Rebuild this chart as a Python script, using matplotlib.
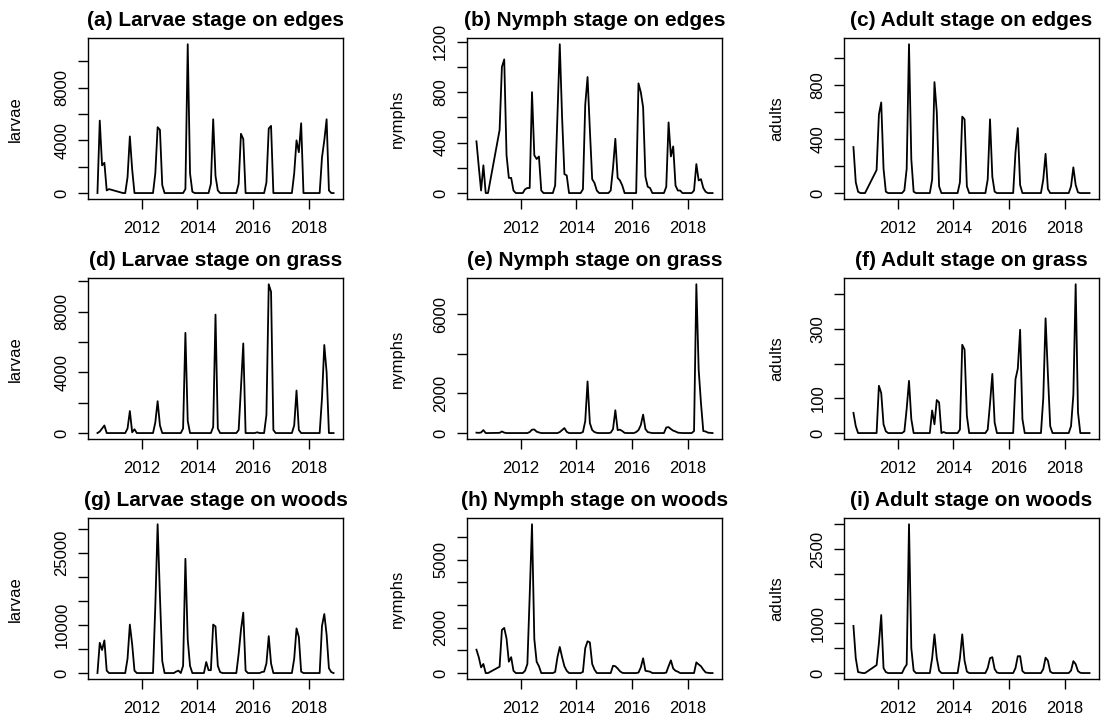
import numpy as np
import matplotlib
matplotlib.use("Agg")
import matplotlib.pyplot as plt

plt.rcParams['font.family'] = ['Liberation Sans', 'DejaVu Sans']

N = None  # month not sampled

# monthly samples, Jun 2010 .. Dec 2018 (one row per year)
months = 2010.4 + np.arange(103) / 12

larvae_edges = [
    0, 5500, 2100, 2300, 200, 300, N,
    N, N, N, 50, 0, 0, 1200, 4300, 1800, 0, 0, 0,
    0, 0, 0, 0, 0, 0, 1500, 5000, 4800, 600, 0, 0,
    0, 0, 0, 0, 0, 0, 0, 300, 11300, 1500, 100, 0,
    0, 0, 0, 0, 0, 0, 700, 5600, 1300, 200, 0, 0,
    0, 0, 0, 0, 0, 0, 700, 4500, 4100, 0, 0, 0,
    0, 0, 0, 0, 0, 0, 800, 4900, 5100, 0, 0, 0,
    0, 0, 0, 0, 0, 0, 1500, 4000, 3100, 5300, 0, 0,
    0, 0, 0, 0, 0, 0, 2700, 4000, 5600, 200, 0, 0,
]
nymphs_edges = [
    410, 210, 20, 220, 0, 0, N,
    N, N, N, 500, 1000, 1060, 300, 120, 120, 20, 0, 0,
    0, 0, 30, 40, 40, 800, 300, 270, 290, 20, 0, 0,
    0, 0, 0, 60, 620, 1180, 600, 150, 140, 0, 0, 0,
    0, 0, 0, 30, 700, 920, 500, 110, 80, 20, 0, 0,
    0, 0, 0, 20, 200, 430, 120, 100, 60, 0, 0, 0,
    0, 0, 0, 870, 800, 680, 130, 50, 40, 0, 0, 0,
    0, 0, 0, 50, 560, 290, 370, 60, 20, 20, 0, 0,
    0, 0, 0, 20, 230, 100, 110, 40, 10, 0, 0, 0,
]
adults_edges = [
    340, 80, 10, 0, 0, 0, N,
    N, N, N, 170, 580, 670, 180, 10, 0, 0, 0, 0,
    0, 0, 0, 20, 180, 1100, 250, 10, 0, 0, 0, 0,
    0, 0, 0, 100, 820, 600, 50, 0, 0, 0, 0, 0,
    0, 0, 0, 80, 565, 545, 50, 0, 0, 0, 0, 0,
    0, 0, 0, 100, 545, 120, 10, 0, 0, 0, 0, 0,
    0, 0, 0, 300, 480, 60, 0, 0, 0, 0, 0, 0,
    0, 0, 0, 100, 290, 30, 0, 0, 0, 0, 0, 0,
    0, 0, 0, 50, 190, 60, 5, 0, 0, 0, 0, 0,
]
larvae_grass = [
    0, 100, 300, 500, 0, 0, N,
    N, N, N, 0, 0, 0, 300, 1450, 50, 250, 0, 0,
    0, 0, 0, 0, 0, 0, 700, 2100, 500, 0, 0, 0,
    0, 0, 0, 0, 0, 0, 300, 6600, 800, 0, 0, 0,
    0, 0, 0, 0, 0, 0, 0, 400, 7800, 300, 0, 0,
    0, 0, 0, 0, 0, 0, 200, 3000, 5900, 0, 0, 0,
    0, 0, 50, 0, 0, 0, 1200, 9800, 9300, 200, 0, 0,
    0, 0, 0, 0, 0, 0, 500, 2800, 200, 0, 0, 0,
    0, 0, 0, 0, 0, 0, 2300, 5800, 4000, 0, 0, 0,
]
nymphs_grass = [
    20, 10, 30, 150, 0, 0, N,
    N, N, N, 10, 80, 20, 0, 0, 0, 0, 0, 0,
    0, 0, 0, 0, 50, 170, 180, 70, 30, 0, 0, 0,
    0, 0, 0, 0, 0, 50, 150, 250, 60, 0, 0, 0,
    0, 0, 0, 50, 600, 2600, 500, 150, 50, 10, 0, 0,
    0, 0, 0, 20, 200, 1150, 150, 170, 100, 10, 0, 0,
    0, 0, 50, 150, 400, 930, 200, 50, 20, 0, 0, 0,
    0, 0, 0, 280, 300, 200, 120, 80, 20, 10, 0, 0,
    0, 0, 0, 100, 7500, 3200, 1500, 100, 80, 20, 10, 0,
]
adults_grass = [
    58, 20, 0, 0, 0, 0, N,
    N, N, N, 0, 136, 115, 25, 5, 0, 0, 0, 0,
    0, 0, 0, 5, 70, 150, 40, 0, 0, 0, 0, 0,
    0, 0, 0, 65, 25, 95, 88, 0, 3, 0, 0, 0,
    0, 0, 0, 10, 254, 240, 50, 0, 0, 0, 0, 0,
    0, 0, 0, 10, 85, 170, 30, 0, 0, 0, 0, 0,
    0, 0, 0, 155, 185, 297, 40, 0, 0, 0, 0, 0,
    0, 0, 0, 100, 330, 170, 20, 0, 0, 0, 0, 0,
    0, 0, 0, 20, 110, 428, 60, 0, 0, 0, 0, 0,
]
larvae_woods = [
    0, 6300, 4800, 6800, 500, 0, N,
    N, N, N, 0, 0, 0, 3000, 10100, 6000, 500, 0, 0,
    0, 0, 0, 0, 0, 0, 14000, 31000, 16000, 2500, 0, 0,
    0, 0, 0, 300, 500, 0, 1500, 23800, 7000, 1500, 0, 0,
    0, 0, 0, 0, 2300, 600, 600, 10100, 9700, 1500, 200, 0,
    0, 0, 0, 0, 0, 0, 4000, 9000, 12600, 500, 0, 0,
    0, 0, 0, 0, 200, 300, 2000, 7700, 2000, 0, 0, 0,
    0, 0, 0, 0, 0, 0, 3000, 9300, 7500, 300, 0, 0,
    0, 0, 0, 0, 0, 0, 9800, 12300, 8000, 1000, 200, 0,
]
nymphs_woods = [
    1030, 700, 250, 400, 0, 0, N,
    N, N, N, 280, 1900, 1990, 1520, 500, 700, 100, 0, 0,
    0, 0, 100, 400, 3400, 6560, 1500, 500, 300, 0, 0, 0,
    0, 0, 0, 50, 700, 1150, 700, 300, 100, 0, 0, 0,
    0, 0, 0, 50, 1100, 1400, 1350, 400, 150, 0, 0, 0,
    0, 0, 0, 0, 320, 300, 200, 80, 10, 0, 0, 0,
    0, 0, 0, 20, 250, 650, 100, 80, 60, 0, 0, 0,
    0, 0, 0, 20, 300, 560, 200, 100, 60, 0, 0, 0,
    0, 0, 0, 0, 470, 380, 300, 150, 30, 10, 0, 0,
]
adults_woods = [
    950, 300, 20, 10, 0, 0, N,
    N, N, N, 160, 600, 1170, 100, 20, 0, 0, 0, 0,
    0, 0, 0, 100, 170, 3000, 500, 50, 0, 0, 0, 0,
    0, 0, 0, 300, 780, 300, 50, 0, 0, 0, 0, 0,
    0, 0, 0, 300, 780, 250, 30, 0, 0, 0, 0, 0,
    0, 0, 0, 100, 300, 320, 80, 10, 0, 0, 0, 0,
    0, 0, 0, 100, 340, 340, 40, 0, 0, 0, 0, 0,
    0, 0, 0, 80, 310, 250, 30, 0, 0, 0, 0, 0,
    0, 0, 0, 50, 240, 180, 40, 5, 0, 0, 0, 0,
]

titles = [
    "(a) Larvae stage on edges", "(b) Nymph stage on edges", "(c) Adult stage on edges",
    "(d) Larvae stage on grass", "(e) Nymph stage on grass", "(f) Adult stage on grass",
    "(g) Larvae stage on woods", "(h) Nymph stage on woods", "(i) Adult stage on woods",
]
ylabels = ["larvae", "nymphs", "adults"] * 3
series = [larvae_edges, nymphs_edges, adults_edges,
          larvae_grass, nymphs_grass, adults_grass,
          larvae_woods, nymphs_woods, adults_woods]
# y ticks (step, max) and which labels R kept
ytick_steps = [(2000, 10000), (200, 1200), (200, 1000),
               (2000, 10000), (2000, 6000), (100, 400),
               (5000, 30000), (1000, 6000), (500, 3000)]
ytick_shown = [[0, 4000, 8000], [0, 400, 800, 1200], [0, 400, 800],
               [0, 4000, 8000], [0, 2000, 6000], [0, 100, 300],
               [0, 10000, 25000], [0, 2000, 5000], [0, 1000, 2500]]
xticks = [2012, 2014, 2016, 2018]

W, H = 1102, 719
fig = plt.figure(figsize=(W / 100, H / 100), dpi=100)

col_left = [88, 467, 844]
col_lab = [73, 70, 67]
row_top = [38.3, 278.3, 518.3]
bw, bh = 255, 160.7

for n in range(9):
    r, c = divmod(n, 3)
    ax = fig.add_axes([col_left[c] / W, 1 - (row_top[r] + bh) / H, bw / W, bh / H])

    v = np.array([np.nan if x is None else x for x in series[n]], dtype=float)
    ok = ~np.isnan(v)
    ax.plot(months[ok], v[ok], color='black', lw=1.3)

    # R style 4% padding
    x0, x1 = months[ok].min(), months[ok].max()
    ax.set_xlim(x0 - 0.04 * (x1 - x0), x1 + 0.04 * (x1 - x0))
    y0, y1 = np.nanmin(v), np.nanmax(v)
    ax.set_ylim(y0 - 0.04 * (y1 - y0), y1 + 0.04 * (y1 - y0))

    step, top = ytick_steps[n]
    yt = list(range(0, top + 1, step))
    ax.set_yticks(yt)
    ax.set_yticklabels([str(y) if y in ytick_shown[n] else "" for y in yt],
                       rotation=90, va='center')
    ax.set_xticks(xticks)
    ax.set_xticklabels([str(x) for x in xticks])

    ax.tick_params(axis='both', direction='out', length=7.5, width=1,
                   labelsize=12)
    ax.tick_params(axis='x', pad=8.5)
    ax.tick_params(axis='y', pad=6)
    for s in ax.spines.values():
        s.set_linewidth(1)

    ax.set_title(titles[n], fontsize=15, fontweight='bold', pad=9)
    ax.text(-col_lab[c] / bw, 0.5, ylabels[n], rotation=90, ha='center',
            va='center', fontsize=12, transform=ax.transAxes)

fig.savefig("out.png", dpi=100)
